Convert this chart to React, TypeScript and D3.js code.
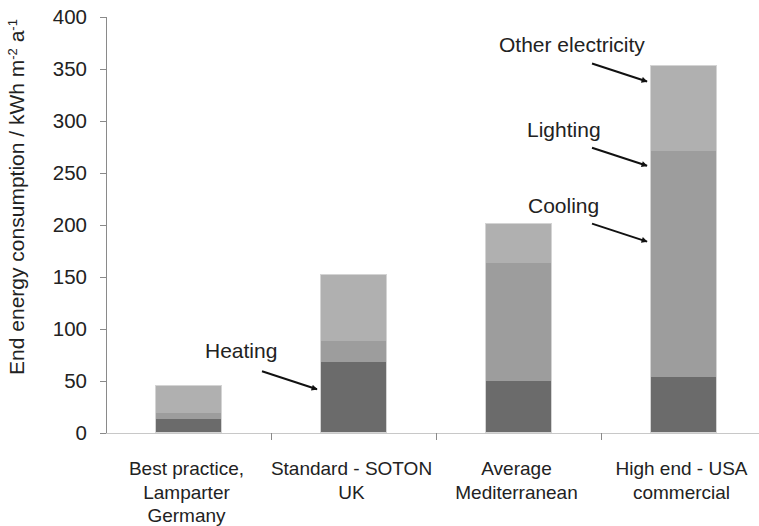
import React from "react";
import * as d3 from "d3";

const categories = ["Best practice,\nLamparter\nGermany", "Standard - SOTON\nUK", "Average\nMediterranean", "High end - USA\ncommercial"];
const heating = [13.5, 68, 50, 54];
const cooling = [0, 5, 70, 150];
const lighting = [5.5, 15, 43, 67];
const otherElectricity = [27, 65, 39, 83];
const seriesNames = ["Heating", "Cooling", "Lighting", "Other electricity"];
const seriesColors = ["#6b6b6b", "#9d9d9d", "#9d9d9d", "#b0b0b0"];
const yTicks = [0, 50, 100, 150, 200, 250, 300, 350, 400];

// annotations: label, category index it points at, value at arrow tip
const annLabels = ["Heating", "Cooling", "Lighting", "Other electricity"];
const annCategory = [1, 3, 3, 3];
const annValue = [42, 184, 257, 338];

const W = 759, H = 526;
const M = { left: 106, top: 17, bottom: 433, right: 766 };
const FONT = "'Liberation Sans', Arial, Helvetica, sans-serif";
// text offsets of each annotation relative to its arrow tip (layout only)
const annTextDx = [-112, -119, -120, -148];
const annTextDy = [-31, -29, -29, -29];

export default function App() {
  const y = d3.scaleLinear().domain([0, 400]).range([M.bottom, M.top]);
  const x = d3
    .scaleBand<number>()
    .domain(d3.range(categories.length))
    .range([M.left, M.right])
    .paddingInner(0.594)
    .paddingOuter(0.297);
  const step = x.step();

  const table = categories.map((c, i) => ({
    i,
    Heating: heating[i],
    Cooling: cooling[i],
    Lighting: lighting[i],
    "Other electricity": otherElectricity[i],
  }));
  const stack = d3.stack<any>().keys(seriesNames)(table);

  return (
    <svg
      width={W}
      height={H}
      style={{ position: "absolute", left: 0, top: 0, background: "#fff" }}
      fontFamily={FONT}
    >
      <defs>
        <marker id="arr" viewBox="0 0 10 10" refX="9" refY="5" markerWidth="8" markerHeight="6" orient="auto" markerUnits="userSpaceOnUse">
          <path d="M0,0 L10,5 L0,10 z" fill="#111" />
        </marker>
      </defs>
      {/* bars */}
      {stack.map((s, si) => (
        <g key={si} shapeRendering="crispEdges">
          {s.map((d, i) => (
            <rect
              key={i}
              x={Math.round(x(i)!)}
              width={Math.round(x.bandwidth())}
              y={Math.round(y(d[1]))}
              height={Math.max(0, Math.round(y(d[0])) - Math.round(y(d[1])))}
              fill={seriesColors[si]}
            />
          ))}
        </g>
      ))}
      {/* bar outlines */}
      {stack[stack.length - 1].map((d, i) => (
        <rect key={i} x={Math.round(x(i)!) + 0.5} width={Math.round(x.bandwidth()) - 1} y={Math.round(y(d[1])) + 0.5} height={Math.round(y(0)) - Math.round(y(d[1])) - 1} fill="none" stroke="#d4d4d4" strokeWidth={1} />
      ))}
      {/* y axis */}
      <line x1={M.left + 0.5} x2={M.left + 0.5} y1={M.top} y2={M.bottom} stroke="#8a8a8a" />
      {yTicks.map((t) => (
        <g key={t}>
          <line x1={M.left - 6} x2={M.left} y1={Math.round(y(t)) + 0.5} y2={Math.round(y(t)) + 0.5} stroke="#8a8a8a" />
          <text x={87} y={y(t)} dy="0.36em" textAnchor="end" fontSize={20.5} fill="#222">
            {t}
          </text>
        </g>
      ))}
      {/* x axis */}
      <line x1={M.left} x2={M.right} y1={M.bottom + 0.5} y2={M.bottom + 0.5} stroke="#c8c8c8" />
      {d3.range(1, categories.length).map((k) => (
        <line key={k} x1={Math.round(M.left + k * step) + 0.5} x2={Math.round(M.left + k * step) + 0.5} y1={M.bottom} y2={M.bottom + 7} stroke="#8a8a8a" />
      ))}
      {categories.map((c, i) => (
        <text key={i} x={x(i)! + x.bandwidth() / 2} y={475} textAnchor="middle" fontSize={19} fill="#222">
          {c.split("\n").map((ln, li) => (
            <tspan key={li} x={x(i)! + x.bandwidth() / 2 - 2} dy={li === 0 ? 0 : 23.5}>
              {ln}
            </tspan>
          ))}
        </text>
      ))}
      {/* y label */}
      <text transform={`translate(24,197) rotate(-90)`} textAnchor="middle" fontSize={21} fill="#222">
        End energy consumption / kWh m
        <tspan dy={-7} fontSize={13}>-2</tspan>
        <tspan dy={7}> a</tspan>
        <tspan dy={-7} fontSize={13}>-1</tspan>
      </text>
      {/* annotations */}
      {annLabels.map((lab, k) => {
        const tx = x(annCategory[k])! - 3;
        const ty = y(annValue[k]);
        return (
          <g key={k}>
            <line x1={tx - 55} y1={ty - 18} x2={tx} y2={ty} stroke="#111" strokeWidth={2} markerEnd="url(#arr)" />
            <text x={tx + annTextDx[k]} y={ty + annTextDy[k]} fontSize={21} fill="#222">
              {lab}
            </text>
          </g>
        );
      })}
    </svg>
  );
}
